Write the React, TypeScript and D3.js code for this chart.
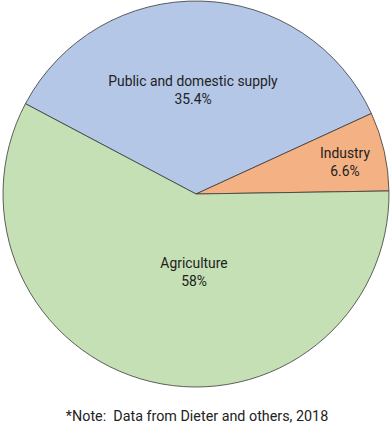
import React from "react";
import * as d3 from "d3";

const categories = ["Public and domestic supply", "Industry", "Agriculture"];
const values = [35.4, 6.6, 58];
const valueLabels = ["35.4%", "6.6%", "58%"];
const colors = ["#b4c7e7", "#f4b183", "#c5e0b4"];
const note = "*Note:  Data from Dieter and others, 2018";

const W = 390;
const H = 427;
const cx = 196;
const cy = 194;
const R = 193;
const startDeg = -62.1;
const squeeze = 0.925;

// label anchor positions (offset from center, in px)
const labelOffsets: [number, number][] = [
  [-3, -108],
  [149, -36],
  [-2, 74],
];

export default function App() {
  const pie = d3
    .pie<number>()
    .sort(null)
    .startAngle((startDeg * Math.PI) / 180)
    .endAngle((startDeg * Math.PI) / 180 + 2 * Math.PI);
  const arcs = pie(values);
  const arc = d3.arc<d3.PieArcDatum<number>>().innerRadius(0).outerRadius(R);
  const font = "Roboto, sans-serif";
  return (
    <svg
      width={W}
      height={H}
      style={{ position: "absolute", left: 0, top: 0, background: "#fff" }}
    >
      <g transform={`translate(${cx},${cy})`}>
        {arcs.map((a, i) => (
          <path
            key={i}
            d={arc(a) || ""}
            fill={colors[i]}
            stroke="#3a3a3a"
            strokeWidth={0.8}
          />
        ))}
        {arcs.map((a, i) => (
          <g
            key={"t" + i}
            transform={`translate(${labelOffsets[i][0]},${labelOffsets[i][1]}) scale(${squeeze},1)`}
          >
            <text
              textAnchor="middle"
              fontFamily={font}
              fontSize={15}
              fill="#222"
            >
              <tspan x={0} dy={0}>
                {categories[i]}
              </tspan>
              <tspan x={0} dy={18}>
                {valueLabels[i]}
              </tspan>
            </text>
          </g>
        ))}
      </g>
      <g transform={`translate(197,421) scale(${squeeze * 1.0},1)`}>
        <text
          textAnchor="middle"
          fontFamily={font}
          fontSize={15.5}
          fill="#222"
          style={{ whiteSpace: "pre" }}
        >
          {note}
        </text>
      </g>
    </svg>
  );
}
